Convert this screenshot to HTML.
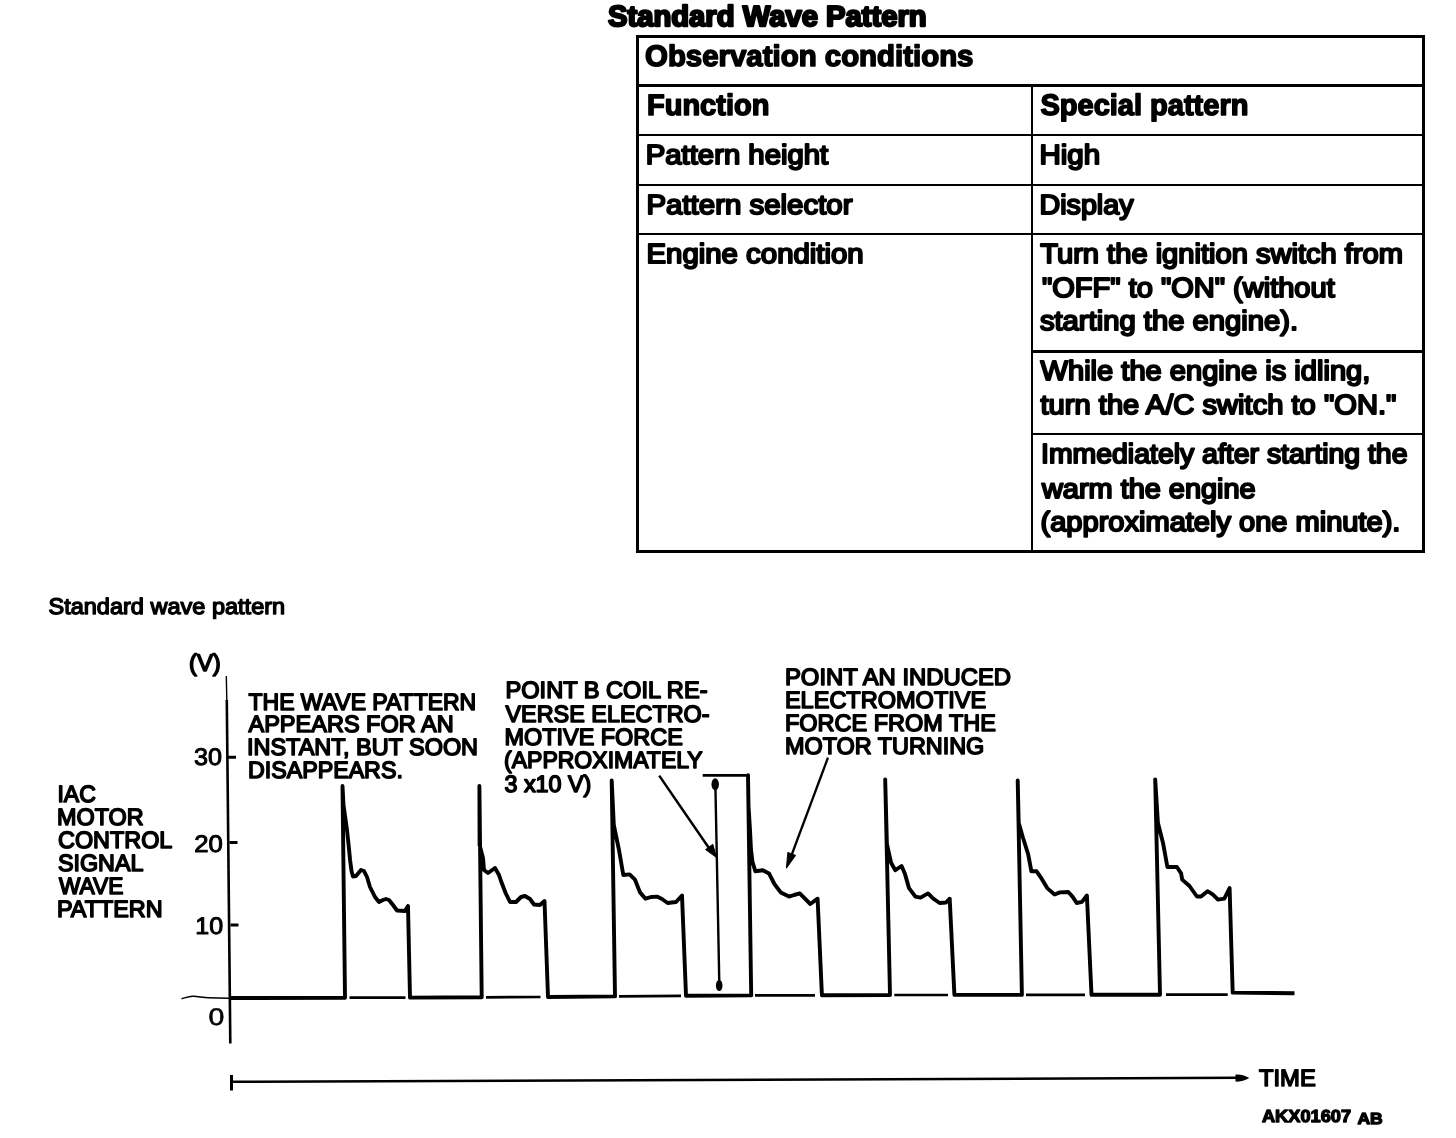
<!DOCTYPE html>
<html><head><meta charset="utf-8"><style>
html,body{margin:0;padding:0;background:#fff;width:1456px;height:1138px;overflow:hidden}
svg{display:block;filter:grayscale(1) contrast(8)}
text{font-family:"Liberation Sans",sans-serif;text-rendering:geometricPrecision;fill:#000;stroke:#000;stroke-linejoin:round}
</style></head><body>
<svg width="1456" height="1138" viewBox="0 0 1456 1138">
<g id="lines" fill="none" stroke="#000" stroke-linecap="butt" stroke-linejoin="round">
<g fill="#000" stroke="none"><rect x="636" y="35" width="3" height="518"/><rect x="636" y="35" width="789" height="3"/><rect x="1422" y="35" width="3" height="518"/><rect x="636" y="550" width="789" height="3"/><rect x="636" y="84" width="789" height="3"/><rect x="1031" y="84" width="2" height="469"/><rect x="636" y="134" width="789" height="2"/><rect x="636" y="184" width="789" height="2"/><rect x="636" y="233" width="789" height="2"/><rect x="1031" y="350" width="394" height="3"/><rect x="1031" y="433" width="394" height="2"/></g>
<path d="M226.3 676 L226.8 700" stroke-width="1.4"/>
<path d="M226.8 700 L230.3 1043.5" stroke-width="2.6"/>
<path d="M228 757.2 L236 757.2 M229.5 842.6 L237.5 842.6 M230.5 925 L238.5 925" stroke-width="3"/>
<path d="M181.5 998.8 C186 997.5 190 995.6 194 996.3 C198 997 205 998.2 229 998.2" stroke-width="1.5"/>
<path d="M229.0 998.0 345.0 997.7 342.5 786.0 343.5 805.0 347.0 830.0 348.5 844.0 350.2 861.0 351.5 871.0 353.0 876.5 356.0 876.0 361.0 870.0 364.0 871.0 367.0 877.0 370.0 887.0 375.0 897.0 379.0 902.0 383.0 900.0 386.0 899.0 389.0 900.0 393.0 905.0 397.0 910.5 405.0 911.0 408.0 906.0 410.0 997.6 481.7 997.3 479.4 786.0 479.6 845.0 483.0 858.0 484.0 870.0 488.0 873.0 495.0 868.0 499.0 875.0 501.0 881.0 505.6 893.0 510.0 902.0 516.0 902.0 521.0 897.0 525.0 896.0 530.0 899.0 534.0 904.5 540.0 905.0 544.5 901.0 548.0 997.0 615.0 996.4 611.7 780.5 613.8 825.0 619.0 850.0 623.3 875.0 629.6 874.4 635.0 879.7 640.0 892.4 645.5 898.7 651.0 897.0 657.0 896.6 662.0 899.0 667.6 903.0 676.0 902.0 682.0 895.5 686.0 995.7 751.2 995.4 748.0 775.3 748.5 806.0 750.0 830.0 751.0 850.0 752.5 862.0 755.4 871.3 762.8 870.2 769.0 873.4 774.4 884.0 780.7 892.4 789.0 896.6 794.0 895.0 799.7 893.4 805.0 898.7 810.3 904.0 817.6 898.7 821.9 995.2 890.0 995.0 885.2 779.5 886.9 843.8 891.1 862.8 895.3 870.2 901.6 866.0 904.8 873.4 909.0 888.1 915.4 896.6 920.6 897.6 928.0 893.4 933.3 898.7 939.6 903.0 946.0 902.5 949.7 898.7 954.4 994.9 1021.9 994.9 1017.7 780.5 1018.7 822.7 1022.9 837.5 1028.2 854.4 1031.4 871.3 1036.6 871.3 1040.9 877.6 1047.2 888.1 1054.6 894.5 1059.9 892.4 1068.3 892.0 1072.5 896.6 1076.7 903.0 1082.0 901.9 1086.9 895.5 1091.5 994.8 1160.0 994.7 1155.2 779.5 1157.9 822.7 1163.2 843.8 1167.4 867.0 1176.9 867.0 1181.1 873.3 1182.2 879.6 1189.5 886.0 1196.9 896.5 1201.1 896.5 1207.5 891.2 1212.7 894.4 1218.0 899.6 1224.3 898.6 1229.6 888.0 1232.7 992.6 1294.5 993.2" stroke-width="3.9" stroke-linejoin="round"/>
<path d="M349.5 997.7 L405.5 997.6 M486.0 997.3 L540.5 997.0 M619.0 996.4 L681.0 995.8 M755.0 995.4 L815.0 995.3 M894.3 995.0 L948.0 995.0 M1026.0 994.9 L1085.0 994.8 M1166.0 994.7 L1227.7 994.6" stroke-width="2.7"/>
<path d="M702.7 775.4 L749.5 775.4" stroke-width="2.6"/>
<path d="M715.4 786 L719.4 988" stroke-width="2.4"/>
<g fill="#000" stroke="none"><ellipse cx="715.2" cy="784.3" rx="3.7" ry="6"/><ellipse cx="719.2" cy="985.5" rx="3.3" ry="5.5"/></g>
<path d="M659.2 775.6 L711 851" stroke-width="2.5"/>
<path d="M716.5 857.5 L712.8 844.3 L705.6 849.6 Z" fill="#000" stroke="#000" stroke-width="1"/>
<path d="M828 757.6 L789 862" stroke-width="2.3"/>
<path d="M786.4 868.2 L795.6 855.4 L787.8 852.4 Z" fill="#000" stroke="#000" stroke-width="1"/>
<path d="M231.5 1075 L231.5 1090.5" stroke-width="3"/>
<path d="M232 1081.8 L700 1080 L1240 1077.8" stroke-width="2.6"/>
<path d="M1235.5 1074.6 C1241 1074.2 1246 1076 1249.3 1078 C1246 1080 1241 1082 1235.5 1081.6 Z" fill="#000" stroke="none"/>
</g>
<g id="texts">
<text id="t1" x="608.00" y="26.02" font-size="29" stroke-width="2.3" font-weight="bold" textLength="318.61" lengthAdjust="spacingAndGlyphs">Standard Wave Pattern</text>
<text id="t2" x="645.00" y="65.50" font-size="29.5" stroke-width="1.6" font-weight="bold" textLength="328.47" lengthAdjust="spacingAndGlyphs">Observation conditions</text>
<text id="t3" x="647.01" y="114.60" font-size="29.5" stroke-width="1.6" font-weight="bold" textLength="122.34" lengthAdjust="spacingAndGlyphs">Function</text>
<text id="t4" x="1040.50" y="114.94" font-size="29.5" stroke-width="1.6" font-weight="bold" textLength="207.88" lengthAdjust="spacingAndGlyphs">Special pattern</text>
<text id="t5" x="645.73" y="164.02" font-size="27.6" stroke-width="2.0" textLength="182.50" lengthAdjust="spacingAndGlyphs">Pattern height</text>
<text id="t6" x="1039.44" y="163.84" font-size="27.6" stroke-width="2.0" textLength="60.75" lengthAdjust="spacingAndGlyphs">High</text>
<text id="t7" x="646.45" y="213.90" font-size="27.6" stroke-width="2.0" textLength="206.05" lengthAdjust="spacingAndGlyphs">Pattern selector</text>
<text id="t8" x="1039.46" y="214.00" font-size="27.6" stroke-width="2.0" textLength="94.08" lengthAdjust="spacingAndGlyphs">Display</text>
<text id="t9" x="646.47" y="262.92" font-size="27.6" stroke-width="2.0" textLength="217.24" lengthAdjust="spacingAndGlyphs">Engine condition</text>
<text id="t10" x="1040.31" y="263.35" font-size="27.6" stroke-width="2.0" textLength="362.76" lengthAdjust="spacingAndGlyphs">Turn the ignition switch from</text>
<text id="t11" x="1042.00" y="296.57" font-size="27.6" stroke-width="2.0" textLength="292.72" lengthAdjust="spacingAndGlyphs">"OFF" to "ON" (without</text>
<text id="t12" x="1039.91" y="330.06" font-size="27.6" stroke-width="2.0" textLength="258.17" lengthAdjust="spacingAndGlyphs">starting the engine).</text>
<text id="t13" x="1040.51" y="380.07" font-size="27.6" stroke-width="2.0" textLength="329.83" lengthAdjust="spacingAndGlyphs">While the engine is idling,</text>
<text id="t14" x="1040.51" y="413.90" font-size="27.6" stroke-width="2.0" textLength="355.91" lengthAdjust="spacingAndGlyphs">turn the A/C switch to "ON."</text>
<text id="t15" x="1041.00" y="463.24" font-size="27.6" stroke-width="2.0" textLength="366.49" lengthAdjust="spacingAndGlyphs">Immediately after starting the</text>
<text id="t16" x="1041.99" y="497.89" font-size="27.6" stroke-width="2.0" textLength="213.70" lengthAdjust="spacingAndGlyphs">warm the engine</text>
<text id="t17" x="1040.56" y="530.80" font-size="27.6" stroke-width="2.0" textLength="359.90" lengthAdjust="spacingAndGlyphs">(approximately one minute).</text>
<text id="d1" x="48.47" y="613.70" font-size="22.5" stroke-width="1.4" textLength="236.68" lengthAdjust="spacingAndGlyphs">Standard wave pattern</text>
<text id="d2" x="188.98" y="670.90" font-size="24" stroke-width="1.6" textLength="31.82" lengthAdjust="spacingAndGlyphs">(V)</text>
<text id="d3" x="193.97" y="764.59" font-size="24" stroke-width="1.0" textLength="28.01" lengthAdjust="spacingAndGlyphs">30</text>
<text id="d4" x="194.25" y="852.20" font-size="24" stroke-width="1.0" textLength="28.56" lengthAdjust="spacingAndGlyphs">20</text>
<text id="d5" x="195.38" y="934.10" font-size="24" stroke-width="1.0" textLength="27.89" lengthAdjust="spacingAndGlyphs">10</text>
<text id="d6" x="208.43" y="1025.02" font-size="24" stroke-width="0.6" textLength="15.82" lengthAdjust="spacingAndGlyphs">0</text>
<text id="d7" x="248.50" y="709.80" font-size="23.6" stroke-width="1.6" textLength="227.73" lengthAdjust="spacingAndGlyphs">THE WAVE PATTERN</text>
<text id="d8" x="248.51" y="732.00" font-size="23.6" stroke-width="1.6" textLength="205.13" lengthAdjust="spacingAndGlyphs">APPEARS FOR AN</text>
<text id="d9" x="246.99" y="754.75" font-size="23.6" stroke-width="1.6" textLength="231.07" lengthAdjust="spacingAndGlyphs">INSTANT, BUT SOON</text>
<text id="d10" x="247.97" y="778.20" font-size="23.6" stroke-width="1.6" textLength="154.88" lengthAdjust="spacingAndGlyphs">DISAPPEARS.</text>
<text id="d11" x="505.47" y="698.20" font-size="23.6" stroke-width="1.6" textLength="202.06" lengthAdjust="spacingAndGlyphs">POINT B COIL RE-</text>
<text id="d12" x="505.50" y="721.80" font-size="23.6" stroke-width="1.6" textLength="204.10" lengthAdjust="spacingAndGlyphs">VERSE ELECTRO-</text>
<text id="d13" x="504.48" y="744.80" font-size="23.6" stroke-width="1.6" textLength="178.33" lengthAdjust="spacingAndGlyphs">MOTIVE FORCE</text>
<text id="d14" x="504.00" y="768.14" font-size="23.6" stroke-width="1.6" textLength="198.74" lengthAdjust="spacingAndGlyphs">(APPROXIMATELY</text>
<text id="d15" x="504.46" y="791.85" font-size="23.6" stroke-width="1.6" textLength="86.81" lengthAdjust="spacingAndGlyphs">3 x10 V)</text>
<text id="d16" x="784.94" y="685.20" font-size="23.6" stroke-width="1.6" textLength="226.16" lengthAdjust="spacingAndGlyphs">POINT AN INDUCED</text>
<text id="d17" x="784.93" y="707.60" font-size="23.6" stroke-width="1.6" textLength="201.28" lengthAdjust="spacingAndGlyphs">ELECTROMOTIVE</text>
<text id="d18" x="784.97" y="731.10" font-size="23.6" stroke-width="1.6" textLength="210.91" lengthAdjust="spacingAndGlyphs">FORCE FROM THE</text>
<text id="d19" x="784.96" y="754.10" font-size="23.6" stroke-width="1.6" textLength="199.35" lengthAdjust="spacingAndGlyphs">MOTOR TURNING</text>
<text id="d20" x="57.40" y="802.00" font-size="23.6" stroke-width="1.6" textLength="38.41" lengthAdjust="spacingAndGlyphs">IAC</text>
<text id="d21" x="56.99" y="824.96" font-size="23.6" stroke-width="1.6" textLength="86.56" lengthAdjust="spacingAndGlyphs">MOTOR</text>
<text id="d22" x="57.99" y="847.80" font-size="23.6" stroke-width="1.6" textLength="114.38" lengthAdjust="spacingAndGlyphs">CONTROL</text>
<text id="d23" x="57.97" y="871.20" font-size="23.6" stroke-width="1.6" textLength="85.50" lengthAdjust="spacingAndGlyphs">SIGNAL</text>
<text id="d24" x="58.97" y="894.00" font-size="23.6" stroke-width="1.6" textLength="64.53" lengthAdjust="spacingAndGlyphs">WAVE</text>
<text id="d25" x="56.95" y="916.80" font-size="23.6" stroke-width="1.6" textLength="105.60" lengthAdjust="spacingAndGlyphs">PATTERN</text>
<text id="d26" x="1258.98" y="1086.00" font-size="23.6" stroke-width="1.6" textLength="56.79" lengthAdjust="spacingAndGlyphs">TIME</text>
<text id="d27" x="1261.97" y="1122.21" font-size="17.5" stroke-width="1.3" font-weight="bold" textLength="89.09" lengthAdjust="spacingAndGlyphs">AKX01607</text>
<text id="d28" x="1357.41" y="1124.00" font-size="16" stroke-width="1.3" font-weight="bold" textLength="25.29" lengthAdjust="spacingAndGlyphs">AB</text>
</g>
</svg>
</body></html>
